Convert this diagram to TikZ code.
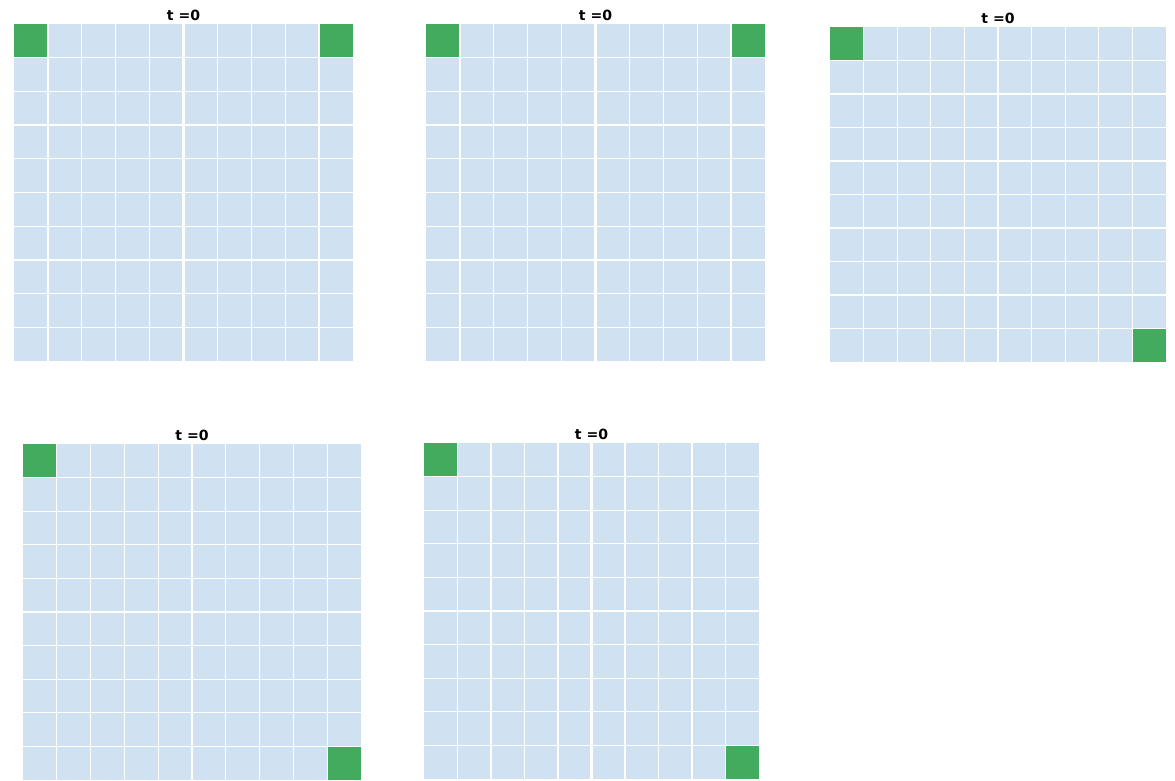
\documentclass[tikz,border=0pt]{standalone}
\usepackage{fontspec}
\setmainfont{DejaVu Sans}
\usepackage{tikz}

\begin{document}
\begin{tikzpicture}[x=0.03cm, y=-0.03cm]

% Colori
\definecolor{cellBlue}{HTML}{D0E1F2}
\definecolor{cellGreen}{HTML}{42AB5D}

\tikzset{
  gridline/.style={white, line width=1.1pt},
  midline/.style={white, line width=2pt},
  titolo/.style={font=\fontsize{12}{14}\selectfont\bfseries, inner sep=0pt}
}

\useasboundingbox (0,0) rectangle (1175,780);

% Griglie: x0/y0/larghezza/altezza/colonna verde/riga verde/nome
\foreach \gx/\gy/\gw/\gh/\gc/\gr/\n in {14/24/339/337/9/0/1,
                                        426/24/339/337/9/0/2,
                                        830/27/336/335/9/9/3,
                                        23/444/338/336/9/9/4,
                                        424/443/335/336/9/9/5}{
  \pgfmathsetmacro\cw{\gw/10}
  \pgfmathsetmacro\ch{\gh/10}
  % sfondo
  \fill[cellBlue] (\gx,\gy) rectangle ++(\gw,\gh);
  % celle verdi
  \fill[cellGreen] (\gx,\gy) rectangle ++(\cw,\ch);
  \fill[cellGreen] (\gx+\gc*\cw,\gy+\gr*\ch) rectangle ++(\cw,\ch);
  % linee interne
  \foreach \i in {1,...,9}{
    \draw[gridline] (\gx+\i*\cw,\gy) -- ++(0,\gh);
    \draw[gridline] (\gx,\gy+\i*\ch) -- ++(\gw,0);
  }
  \draw[midline] (\gx+5*\cw,\gy) -- ++(0,\gh);
  % titolo
  \node[titolo, anchor=south] (titolo\n) at (\gx+\gw/2,\gy-3) {t =0};
}

\end{tikzpicture}
\end{document}
